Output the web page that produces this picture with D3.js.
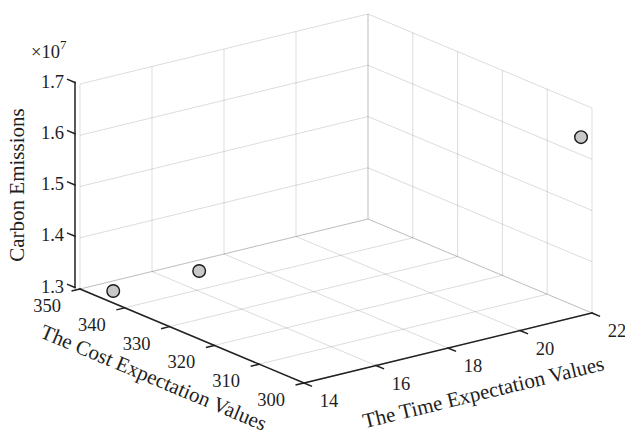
<!DOCTYPE html>
<html>
<head>
<meta charset="utf-8">
<script src="https://cdn.jsdelivr.net/npm/d3@7"></script>
<style>
  html, body { margin: 0; padding: 0; background: #fff; }
  svg { display: block; }
  text { font-family: "Liberation Serif", "Times New Roman", serif; fill: #1e1e1e; }
</style>
</head>
<body>
<svg id="chart" width="625" height="431"></svg>
<script>
// Solutions: time expectation, cost expectation, carbon emissions
const timeValues = [14.5, 16.85, 21.82];
const costValues = [346.6, 346.3, 301];
const emissionValues = [1.300e7, 1.300e7, 1.6425e7];

// Axis ticks
const timeTicks = [14, 16, 18, 20, 22];
const costTicks = [350, 340, 330, 320, 310, 300];
const emissionTicks = [1.3e7, 1.4e7, 1.5e7, 1.6e7, 1.7e7];
const emissionTickLabels = ["1.3", "1.4", "1.5", "1.6", "1.7"];

const svg = d3.select("#chart");

// Normalised data scales (0..1 along each box edge)
const tS = d3.scaleLinear().domain([14, 22]).range([0, 1]);
const cS = d3.scaleLinear().domain([350, 300]).range([0, 1]);
const zS = d3.scaleLinear().domain([1.3e7, 1.7e7]).range([0, 1]);

// Orthographic view: screen vectors of the three box edges
const O = [80, 289];        // time=14, cost=350, emissions=1.3e7
const vT = [288, -70];      // time 14 -> 22
const vC = [224, 94];       // cost 350 -> 300
const vZ = [0, -205];       // emissions 1.3e7 -> 1.7e7

function proj(t, c, z) {
  const a = tS(t), b = cS(c), h = zS(z);
  return [O[0] + a * vT[0] + b * vC[0] + h * vZ[0],
          O[1] + a * vT[1] + b * vC[1] + h * vZ[1]];
}
const unit = v => { const l = Math.hypot(v[0], v[1]); return [v[0] / l, v[1] / l]; };

const tMin = 14, tMax = 22, cBack = 350, cFront = 300, zMin = 1.3e7, zMax = 1.7e7;

const grid = svg.append("g")
  .attr("fill", "none")
  .attr("stroke", "#262626")
  .attr("stroke-opacity", 0.16)
  .attr("stroke-width", 1);

function seg(g, p, q) {
  g.append("line").attr("x1", p[0]).attr("y1", p[1]).attr("x2", q[0]).attr("y2", q[1]);
}

// Back wall (cost = 350)
timeTicks.forEach(t => seg(grid, proj(t, cBack, zMin), proj(t, cBack, zMax)));
emissionTicks.forEach(z => seg(grid, proj(tMin, cBack, z), proj(tMax, cBack, z)));
// Side wall (time = 22)
costTicks.forEach(c => seg(grid, proj(tMax, c, zMin), proj(tMax, c, zMax)));
emissionTicks.forEach(z => seg(grid, proj(tMax, cBack, z), proj(tMax, cFront, z)));
// Floor (emissions = 1.3e7)
timeTicks.forEach(t => seg(grid, proj(t, cBack, zMin), proj(t, cFront, zMin)));
costTicks.forEach(c => seg(grid, proj(tMin, c, zMin), proj(tMax, c, zMin)));

// Axes
const axisColor = "#222";
const ax = svg.append("g")
  .attr("stroke", axisColor)
  .attr("stroke-width", 1.5)
  .attr("fill", "none")
  .attr("stroke-linecap", "square");
const tickLen = 8;

// Cost axis along the front-left floor edge, ticks pointing away from time
const dT = unit(vT), dC = unit(vC);
seg(ax, proj(tMin, cBack, zMin), proj(tMin, cFront, zMin));
costTicks.forEach(c => {
  const p = proj(tMin, c, zMin);
  seg(ax, p, [p[0] - dT[0] * tickLen, p[1] - dT[1] * tickLen]);
});
// Time axis along the front-right floor edge, ticks pointing outward along cost
seg(ax, proj(tMin, cFront, zMin), proj(tMax, cFront, zMin));
timeTicks.forEach(t => {
  const p = proj(t, cFront, zMin);
  seg(ax, p, [p[0] + dC[0] * tickLen, p[1] + dC[1] * tickLen]);
});
// Emissions axis at the left vertical edge, nudged outward
const zOff = [-5, -1.5];
const zp = z => { const p = proj(tMin, cBack, z); return [p[0] + zOff[0], p[1] + zOff[1]]; };
seg(ax, zp(zMin), zp(zMax));
emissionTicks.forEach(z => {
  const p = zp(z);
  seg(ax, p, [p[0] - dC[0] * tickLen, p[1] - dC[1] * tickLen]);
});

// Tick labels
const labels = svg.append("g").attr("font-size", 18.5);
costTicks.forEach(c => {
  const p = proj(tMin, c, zMin);
  labels.append("text")
    .attr("x", p[0] - 33).attr("y", p[1] + 17)
    .attr("text-anchor", "middle").attr("dominant-baseline", "central")
    .text(c);
});
timeTicks.forEach(t => {
  const p = proj(t, cFront, zMin);
  labels.append("text")
    .attr("x", p[0] + 25).attr("y", p[1] + 18)
    .attr("text-anchor", "middle").attr("dominant-baseline", "central")
    .text(t);
});
emissionTicks.forEach((z, i) => {
  const p = zp(z);
  labels.append("text")
    .attr("x", p[0] - 11).attr("y", p[1] - 1)
    .attr("text-anchor", "end").attr("dominant-baseline", "central")
    .text(emissionTickLabels[i]);
});

// Exponent multiplier
const mult = svg.append("text").attr("x", 31).attr("y", 58).attr("font-size", 18.5);
mult.append("tspan").text("\u00d710");
mult.append("tspan").attr("font-size", 13).attr("dy", -9).text("7");

// Axis titles
const titles = svg.append("g").attr("font-size", 21).attr("text-anchor", "middle");
titles.append("text")
  .attr("transform", "translate(24,185) rotate(-90)")
  .text("Carbon Emissions");
const costAngle = Math.atan2(vC[1], vC[0]) * 180 / Math.PI;
titles.append("text")
  .attr("transform", `translate(151,384) rotate(${costAngle})`)
  .text("The Cost Expectation Values");
const timeAngle = Math.atan2(vT[1], vT[0]) * 180 / Math.PI;
titles.append("text")
  .attr("transform", `translate(485,399) rotate(${timeAngle})`)
  .text("The Time Expectation Values");

// Solution markers
svg.append("g")
  .selectAll("circle")
  .data(timeValues.map((t, i) => [t, costValues[i], emissionValues[i]]))
  .join("circle")
  .attr("cx", d => proj(d[0], d[1], d[2])[0])
  .attr("cy", d => proj(d[0], d[1], d[2])[1])
  .attr("r", 6.3)
  .attr("fill", "#c8c8c8")
  .attr("stroke", "#1a1a1a")
  .attr("stroke-width", 1.4);
</script>
</body>
</html>
